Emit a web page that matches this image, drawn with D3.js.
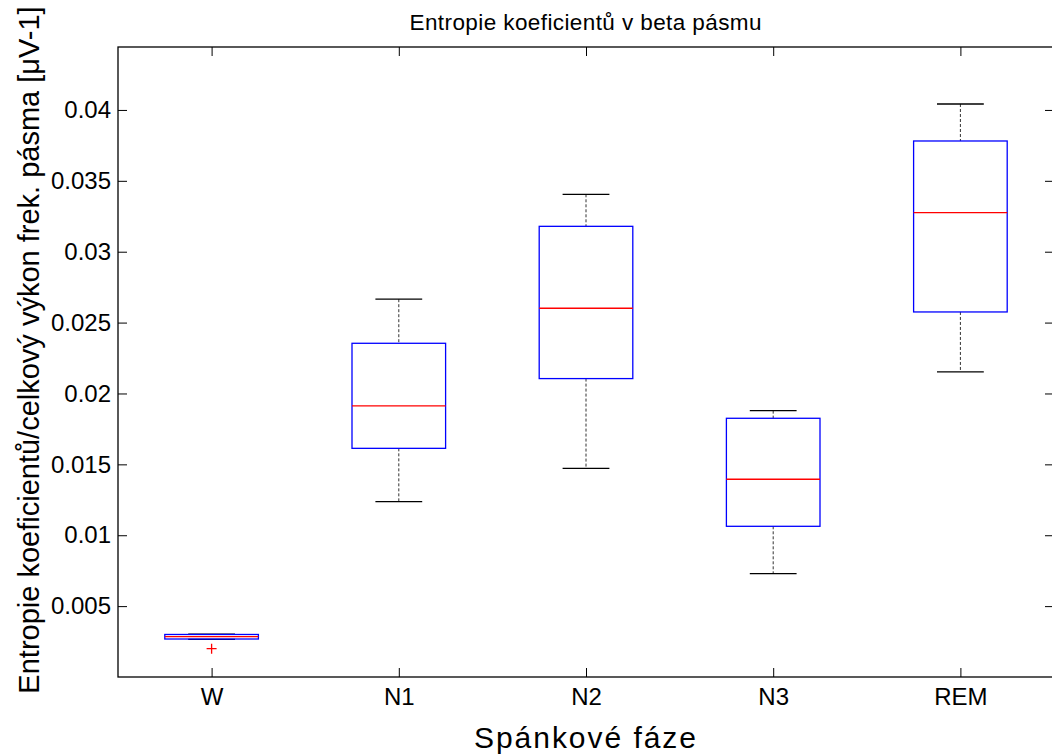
<!DOCTYPE html>
<html>
<head>
<meta charset="utf-8">
<script src="https://cdn.jsdelivr.net/npm/d3@7"></script>
<style>
  body { margin: 0; background: #fff; }
  svg { display: block; font-family: "Liberation Sans", Arial, sans-serif; }
</style>
</head>
<body>
<div id="view"></div>
<script>
// box statistics
const categories = ["W", "N1", "N2", "N3", "REM"];
const whiskerHigh = [0.00303, 0.02665, 0.03405, 0.01879, 0.04042];
const q3 = [0.00300, 0.02354, 0.03179, 0.01825, 0.03781];
const median = [0.00285, 0.01912, 0.02601, 0.01395, 0.03276];
const q1 = [0.00268, 0.01613, 0.02105, 0.01063, 0.02575];
const whiskerLow = [0.00265, 0.01237, 0.01472, 0.00729, 0.02152];
const outliers = [[0.00200], [], [], [], []];
const yTicks = [0.005, 0.01, 0.015, 0.02, 0.025, 0.03, 0.035, 0.04];

const width = 1052, height = 754;
const margin = {top: 47, right: -2, bottom: 77, left: 118};
const innerW = width - margin.left - margin.right;
const innerH = height - margin.top - margin.bottom;

const svg = d3.select("#view")
    .append("svg")
        .attr("width", width)
        .attr("height", height);

const g = svg.append("g")
    .attr("transform", `translate(${margin.left},${margin.top})`);

// X: box positions 1..5
const x = d3.scaleLinear().domain([0.5, 5.5]).range([0, innerW]);
const y = d3.scaleLinear().domain([0, 0.04444]).range([innerH, 0]);
const boxW = x(1.25) - x(1);
const tickLen = 9;

// frame
g.append("rect")
    .attr("width", innerW)
    .attr("height", innerH)
    .attr("fill", "none")
    .attr("stroke", "#000")
    .attr("stroke-width", 1.3);

// axes, ticks inward
const xAxis = g.append("g")
    .attr("transform", `translate(0,${innerH})`)
    .call(d3.axisBottom(x)
        .tickValues(categories.map((d, i) => i + 1))
        .tickFormat((d, i) => categories[i])
        .tickSizeInner(-tickLen).tickSizeOuter(0).tickPadding(11));
const yAxis = g.append("g")
    .call(d3.axisLeft(y)
        .tickValues(yTicks)
        .tickFormat(d => String(+d.toFixed(3)))
        .tickSizeInner(-tickLen).tickSizeOuter(0).tickPadding(7));
g.append("g")
    .call(d3.axisTop(x)
        .tickValues(categories.map((d, i) => i + 1))
        .tickFormat("").tickSizeInner(-tickLen).tickSizeOuter(0));
g.append("g")
    .attr("transform", `translate(${innerW},0)`)
    .call(d3.axisRight(y)
        .tickValues(yTicks)
        .tickFormat("").tickSizeInner(-tickLen).tickSizeOuter(0));

g.selectAll(".domain").remove();
g.selectAll(".tick line").attr("stroke", "#000");
[xAxis, yAxis].forEach(a => a.selectAll("text")
    .attr("fill", "#000")
    .attr("font-size", 24)
    .attr("font-family", "Liberation Sans, Arial, sans-serif"));

// boxes
const boxes = g.selectAll(".box")
    .data(categories)
    .join("g")
        .attr("class", "box")
        .attr("transform", (d, i) => `translate(${x(i + 1)},0)`);

// whiskers (dashed)
boxes.append("line")
    .attr("y1", (d, i) => y(whiskerHigh[i]))
    .attr("y2", (d, i) => y(q3[i]))
    .attr("stroke", "#333").attr("stroke-dasharray", "3,2");
boxes.append("line")
    .attr("y1", (d, i) => y(q1[i]))
    .attr("y2", (d, i) => y(whiskerLow[i]))
    .attr("stroke", "#333").attr("stroke-dasharray", "3,2");
// caps
[whiskerHigh, whiskerLow].forEach(arr => {
    boxes.append("line")
        .attr("x1", -boxW / 2).attr("x2", boxW / 2)
        .attr("y1", (d, i) => y(arr[i]))
        .attr("y2", (d, i) => y(arr[i]))
        .attr("stroke", "#000").attr("stroke-width", 1.3);
});
// box
boxes.append("rect")
    .attr("x", -boxW)
    .attr("width", boxW * 2)
    .attr("y", (d, i) => y(q3[i]))
    .attr("height", (d, i) => y(q1[i]) - y(q3[i]))
    .attr("fill", "none")
    .attr("stroke", "#0000ff").attr("stroke-width", 1.3);
// median
boxes.append("line")
    .attr("x1", -boxW).attr("x2", boxW)
    .attr("y1", (d, i) => y(median[i]))
    .attr("y2", (d, i) => y(median[i]))
    .attr("stroke", "#ff0000").attr("stroke-width", 1.3);
// outliers as red +
boxes.each(function(d, i) {
    d3.select(this).selectAll(".out")
        .data(outliers[i])
        .join("path")
            .attr("class", "out")
            .attr("d", v => `M-5,${y(v)}H5M0,${y(v) - 5}V${y(v) + 5}`)
            .attr("stroke", "#ff0000").attr("stroke-width", 1.3);
});

// titles
svg.append("text")
    .attr("x", 585.5).attr("y", 30)
    .attr("text-anchor", "middle")
    .attr("font-size", 22.5)
    .attr("textLength", 352)
    .attr("lengthAdjust", "spacing")
    .text("Entropie koeficientů v beta pásmu");
svg.append("text")
    .attr("x", 585).attr("y", 748)
    .attr("text-anchor", "middle")
    .attr("font-size", 30)
    .attr("textLength", 222)
    .attr("lengthAdjust", "spacing")
    .text("Spánkové fáze");
svg.append("text")
    .attr("transform", `translate(39,350) rotate(-90)`)
    .attr("text-anchor", "middle")
    .attr("font-size", 29)
    .text("Entropie koeficientů/celkový výkon frek. pásma [μV-1]");
</script>
</body>
</html>
